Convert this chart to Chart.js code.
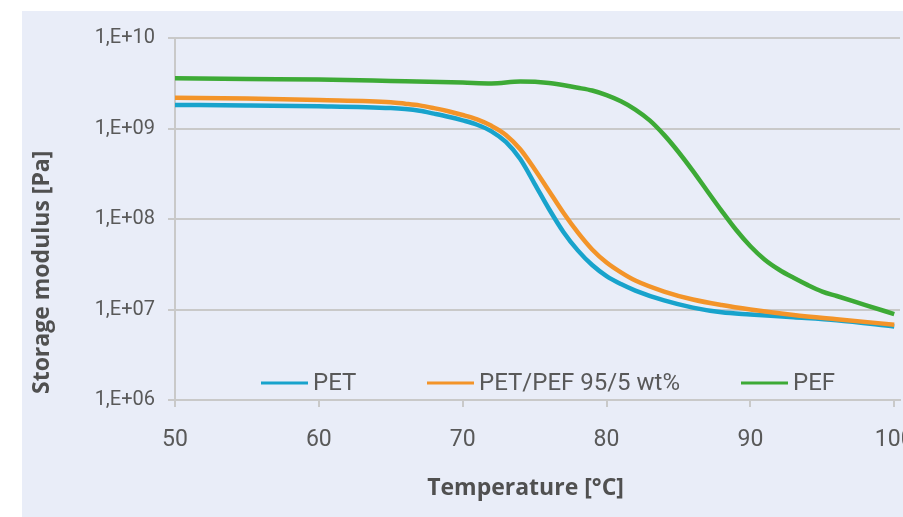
<!DOCTYPE html>
<html>
<head>
<meta charset="utf-8">
<title>Storage modulus vs temperature</title>
<script src="https://cdn.jsdelivr.net/npm/chart.js@4/dist/chart.umd.min.js"></script>
<style>
    html, body { margin: 0; padding: 0; background: #ffffff; overflow: hidden; }
    #wrap { position: relative; width: 903px; height: 517px; overflow: hidden; }
    #panel { position: absolute; left: 22px; top: 11px; right: 0; bottom: 0; background: #E9EDF8; }
    #chart { position: absolute; left: 0; top: 0; }
</style>
</head>
<body>
<div id="wrap">
    <div id="panel"></div>
    <canvas id="chart" width="940" height="517"></canvas>
</div>
<script>
// 数据
const seriesNames = ['PET', 'PET/PEF 95/5 wt%', 'PEF'];
const seriesColors = ['#18A3CC', '#F39429', '#3DAA36'];

// PET 和 PET/PEF 共用的温度点 (°C)
const tempPet = [50, 55, 60, 65, 66, 67, 68, 69, 70, 71, 72, 73, 74, 75, 76, 77, 78, 79, 80, 81, 82, 84, 86, 88, 90, 93, 96, 100];
const modulusPet = [1.82e9, 1.80e9, 1.76e9, 1.68e9, 1.64e9, 1.57e9, 1.46e9, 1.35e9, 1.23e9, 1.10e9, 9.3e8, 7.1e8, 4.6e8, 2.45e8, 1.29e8, 7.2e7, 4.5e7, 3.1e7, 2.34e7, 1.91e7, 1.62e7, 1.26e7, 1.05e7, 9.3e6, 8.8e6, 8.2e6, 7.6e6, 6.5e6];
const modulusBlend = [2.19e9, 2.14e9, 2.06e9, 1.95e9, 1.88e9, 1.80e9, 1.68e9, 1.55e9, 1.41e9, 1.26e9, 1.07e9, 8.5e8, 5.9e8, 3.55e8, 2.04e8, 1.17e8, 7.1e7, 4.6e7, 3.3e7, 2.57e7, 2.09e7, 1.58e7, 1.29e7, 1.12e7, 1.0e7, 8.7e6, 7.8e6, 6.8e6];

// PEF 温度点 (°C)
const tempPef = [50, 55, 60, 65, 70, 72, 74, 76, 78, 79, 80, 81, 82, 83, 84, 85, 86, 87, 88, 89, 90, 91, 92, 93, 94, 95, 96, 98, 100];
const modulusPef = [3.6e9, 3.52e9, 3.47e9, 3.35e9, 3.22e9, 3.15e9, 3.3e9, 3.18e9, 2.82e9, 2.63e9, 2.34e9, 2.0e9, 1.62e9, 1.23e9, 8.5e8, 5.5e8, 3.4e8, 2.04e8, 1.23e8, 7.6e7, 5.0e7, 3.55e7, 2.75e7, 2.24e7, 1.86e7, 1.58e7, 1.41e7, 1.12e7, 8.9e6];

// 坐标轴刻度
const xTicks = [50, 60, 70, 80, 90, 100];
const yTicks = [1e6, 1e7, 1e8, 1e9, 1e10];

const textColor = '#595959';
const titleColor = '#505050';
const gridColor = '#C9C9C9';

// 组合成 {x, y} 点
function toPoints(xs, ys) {
    return xs.map((x, i) => ({ x: x, y: ys[i] }));
}

// 1,E+09 这种格式
function formatExp(value) {
    const exp = Math.round(Math.log10(value));
    return '1,E+' + String(exp).padStart(2, '0');
}

// 图表区域内的图例 (模仿原图位置)
const innerLegend = {
    id: 'innerLegend',
    afterDraw(chart) {
        const ctx = chart.ctx;
        const starts = [261, 427, 741];
        const y = 383;
        ctx.save();
        ctx.font = '24px Roboto';
        ctx.textBaseline = 'middle';
        ctx.textAlign = 'left';
        chart.data.datasets.forEach((ds, i) => {
            const x0 = starts[i];
            ctx.strokeStyle = ds.borderColor;
            ctx.lineWidth = 3;
            ctx.beginPath();
            ctx.moveTo(x0, y);
            ctx.lineTo(x0 + 47, y);
            ctx.stroke();
            ctx.fillStyle = textColor;
            ctx.fillText(ds.label, x0 + 52, y + 1);
        });
        ctx.restore();
    }
};

const datasets = [
    { label: seriesNames[0], data: toPoints(tempPet, modulusPet), borderColor: seriesColors[0], order: 2 },
    { label: seriesNames[1], data: toPoints(tempPet, modulusBlend), borderColor: seriesColors[1], order: 1 },
    { label: seriesNames[2], data: toPoints(tempPef, modulusPef), borderColor: seriesColors[2], order: 0 }
].map(ds => Object.assign(ds, {
    borderWidth: 4.5,
    pointRadius: 0,
    fill: false,
    cubicInterpolationMode: 'monotone'
}));

const ctx = document.getElementById('chart').getContext('2d');
new Chart(ctx, {
    type: 'line',
    data: { datasets: datasets },
    plugins: [innerLegend],
    options: {
        responsive: false,
        animation: false,
        layout: { padding: { top: 38, right: 40, left: 0, bottom: 0 } },
        plugins: {
            legend: { display: false },
            tooltip: { enabled: false }
        },
        scales: {
            x: {
                type: 'linear',
                min: 50,
                max: 100.4,
                afterBuildTicks: scale => { scale.ticks = xTicks.map(v => ({ value: v })); },
                afterFit: scale => { scale.height = 117; },
                ticks: {
                    color: textColor,
                    padding: 19,
                    font: { family: 'Roboto', size: 23 },
                    maxRotation: 0
                },
                grid: {
                    drawOnChartArea: false,
                    drawTicks: true,
                    tickLength: 7,
                    color: gridColor,
                    lineWidth: 2
                },
                border: { color: gridColor, width: 2 },
                title: {
                    display: true,
                    // 尾部空格让标题稍微左移
                    text: 'Temperature [°C]    ',
                    color: titleColor,
                    font: { family: 'Open Sans', size: 23, weight: 'bold' },
                    padding: { top: 0, bottom: 15 }
                }
            },
            y: {
                type: 'logarithmic',
                min: 1e6,
                max: 1e10,
                afterBuildTicks: scale => { scale.ticks = yTicks.map(v => ({ value: v })); },
                afterFit: scale => { scale.width = 175; },
                ticks: {
                    color: textColor,
                    padding: 13,
                    font: { family: 'Roboto', size: 20 },
                    callback: value => formatExp(value)
                },
                grid: {
                    color: gridColor,
                    lineWidth: 2,
                    tickLength: 7
                },
                border: { color: gridColor, width: 2 },
                title: {
                    display: true,
                    align: 'start',
                    text: ' Storage modulus [Pa]',
                    color: titleColor,
                    font: { family: 'Open Sans', size: 23, weight: 'bold' },
                    padding: { top: 29, bottom: 0 }
                }
            }
        }
    }
});
</script>
</body>
</html>
